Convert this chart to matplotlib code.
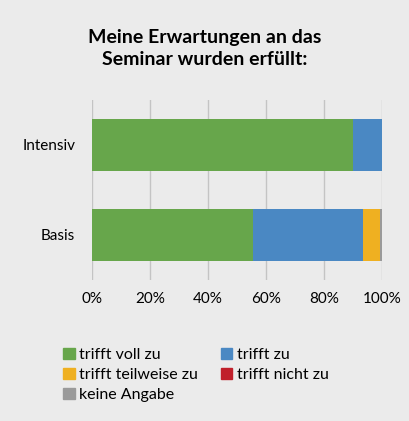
import matplotlib.pyplot as plt
from matplotlib.patches import Patch

# Daten
kategorien = ["Basis", "Intensiv"]
antworten = ["trifft voll zu", "trifft zu", "trifft teilweise zu", "trifft nicht zu", "keine Angabe"]
farben = ["#67a64b", "#4a88c3", "#efb021", "#c0202b", "#9a9a9a"]
werte = {
    "trifft voll zu": [55.6, 90.0],
    "trifft zu": [37.8, 10.0],
    "trifft teilweise zu": [6.0, 0.0],
    "trifft nicht zu": [0.0, 0.0],
    "keine Angabe": [0.6, 0.0],
}
xticks = [0, 20, 40, 60, 80, 100]

plt.rcParams["font.family"] = ["Lato", "DejaVu Sans"]
hintergrund = "#ebebeb"

fig = plt.figure(figsize=(4.1, 4.21), dpi=100, facecolor=hintergrund)
ax = fig.add_axes([0.2244, 0.335, 0.7073, 0.4275], facecolor=hintergrund)

links = [0.0, 0.0]
for name, farbe in zip(antworten, farben):
    ax.barh(kategorien, werte[name], left=links, height=0.58, color=farbe, zorder=3)
    links = [a + b for a, b in zip(links, werte[name])]

ax.set_xlim(0, 100)
ax.set_ylim(-0.5, 1.5)
ax.set_xticks(xticks)
ax.set_xticklabels([f"{t}%" for t in xticks], fontsize=11)
ax.tick_params(axis="y", labelsize=11, length=0, pad=12)
ax.tick_params(axis="x", length=0, pad=9)
ax.grid(axis="x", color="#c4c4c4", linewidth=1, zorder=0)
for s in ax.spines.values():
    s.set_visible(False)

fig.text(0.5, 0.885, "Meine Erwartungen an das\nSeminar wurden erfüllt:",
         ha="center", va="center", fontsize=14, fontweight="bold", linespacing=1.35)

reihenfolge = [0, 2, 4, 1, 3]
griffe = [Patch(color=farben[i]) for i in reihenfolge]
beschriftung = [antworten[i] for i in reihenfolge]
fig.legend(griffe, beschriftung, ncol=2, loc="upper left", bbox_to_anchor=(0.135, 0.193),
           frameon=False, fontsize=11.5, handlelength=0.7, handleheight=0.7,
           handletextpad=0.3, labelspacing=0.38, columnspacing=1.4, borderpad=0)

fig.savefig("out.png", dpi=100, facecolor=hintergrund)
